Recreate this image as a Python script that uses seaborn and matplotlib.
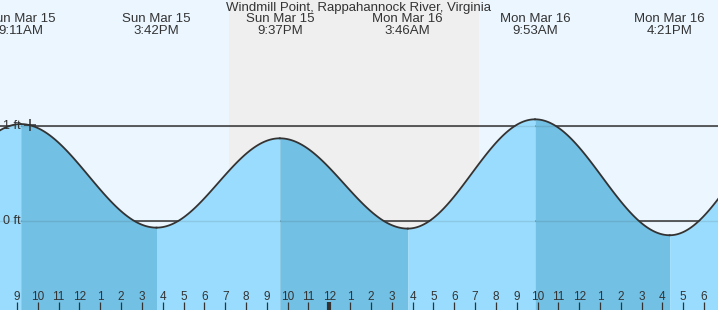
import numpy as np
import pandas as pd
import matplotlib
matplotlib.use("Agg")
import matplotlib.pyplot as plt
import seaborn as sns

# ---------------- data ----------------
title = "Windmill Point, Rappahannock River, Virginia"
# tide extremes: hours since Sun Mar 15 00:00, height in ft
event_hours = [2.95, 9.18, 15.70, 21.62, 27.77, 33.88, 40.35, 46.30]
event_heights = [-0.05, 1.02, -0.07, 0.87, -0.08, 1.07, -0.15, 1.00]
event_labels = ["", "Sun Mar 15\n9:11AM", "Sun Mar 15\n3:42PM", "Sun Mar 15\n9:37PM",
                "Mon Mar 16\n3:46AM", "Mon Mar 16\n9:53AM", "Mon Mar 16\n4:21PM", ""]
sunset_hour = 19.19
sunrise_hour = 31.20
now_hour = 9.62
hour_ticks = list(range(9, 43))
hour_tick_labels = [str((h - 1) % 12 + 1) for h in hour_ticks]
level_values = [0, 1]
level_labels = ["0 ft", "1 ft"]

# ---------------- style ----------------
W, H = 718, 310
X0, X1 = 8.183, 8.183 + 718 / 20.82
Y0, Y1 = -0.937, 2.326
sky_day = "#ebf6ff"
sky_night = "#efefef"
fill_rise = "#99dcfd"
fill_fall = "#72c0e4"
ink = "#333333"
font = ["Liberation Sans", "DejaVu Sans"]

plt.rcParams["font.family"] = font

fig = plt.figure(figsize=(W / 100, H / 100), dpi=100)
ax = fig.add_axes([0, 0, 1, 1])
ax.set_xlim(X0, X1)
ax.set_ylim(Y0, Y1)
ax.set_facecolor(sky_day)
for s in ax.spines.values():
    s.set_visible(False)

ax.axvspan(sunset_hour, sunrise_hour, color=sky_night, zorder=0, lw=0)

# tide curve between extremes (cosine shape between high and low)
def tide_at(t):
    for i in range(len(event_hours) - 1):
        a, b = event_hours[i], event_hours[i + 1]
        if a <= t <= b:
            f = (t - a) / (b - a)
            return event_heights[i] + (event_heights[i + 1] - event_heights[i]) * (1 - np.cos(np.pi * f)) / 2
    return np.nan

rows = []
for i in range(len(event_hours) - 1):
    a, b = event_hours[i], event_hours[i + 1]
    ts = np.linspace(a, b, 120)
    for t in ts:
        rows.append({"hour": t, "height": tide_at(t), "seg": i})
df = pd.DataFrame(rows)

# level lines (dark, behind fill)
for v in level_values:
    ax.axhline(v, color=ink, lw=1.1, zorder=1)

for i in range(len(event_hours) - 1):
    d = df[df.seg == i]
    falling = event_heights[i + 1] < event_heights[i]
    ax.fill_between(d.hour, Y0, d.height, color=fill_fall if falling else fill_rise,
                    lw=0, zorder=2)

for v in level_values:
    ax.axhline(v, color=ink, lw=1.0, alpha=0.12, zorder=3)

sns.lineplot(data=df, x="hour", y="height", units="seg", estimator=None,
             color=ink, lw=1.3, ax=ax, zorder=4, legend=False)
ax.plot([now_hour], [tide_at(now_hour)], marker="+", ms=8, mew=1.1, color=ink, zorder=5)

ax.set_xlim(X0, X1)
ax.set_ylim(Y0, Y1)
ax.set_xlabel("")
ax.set_ylabel("")
ax.set_yticks([])

ax.set_axisbelow(False)
ax.set_xticks(hour_ticks)
ax.set_xticklabels(hour_tick_labels)
ax.tick_params(axis="x", direction="in", length=6, width=0.9, color=ink,
               labelcolor=ink, labelsize=8.5, pad=-13.5)
for t, h in zip(ax.xaxis.get_major_ticks(), hour_ticks):
    if h == 24:
        t.tick1line.set_markeredgewidth(3)

for v, lab in zip(level_values, level_labels):
    ax.text(X0 + 3 / 20.82, v, lab, ha="left", va="center", fontsize=9, color=ink, zorder=6)

xt = ax.get_xaxis_transform()
for h, lab in zip(event_hours, event_labels):
    if lab:
        ax.text(h, 1 - 25.5 / H, lab, transform=xt, ha="center", va="center",
                fontsize=9.5, color=ink, linespacing=1.0, zorder=6, multialignment="center")

fig.text(359 / W, 1 - 7.5 / H, title, ha="center", va="center", fontsize=9.5, color=ink)

fig.savefig("out.png", dpi=100)
